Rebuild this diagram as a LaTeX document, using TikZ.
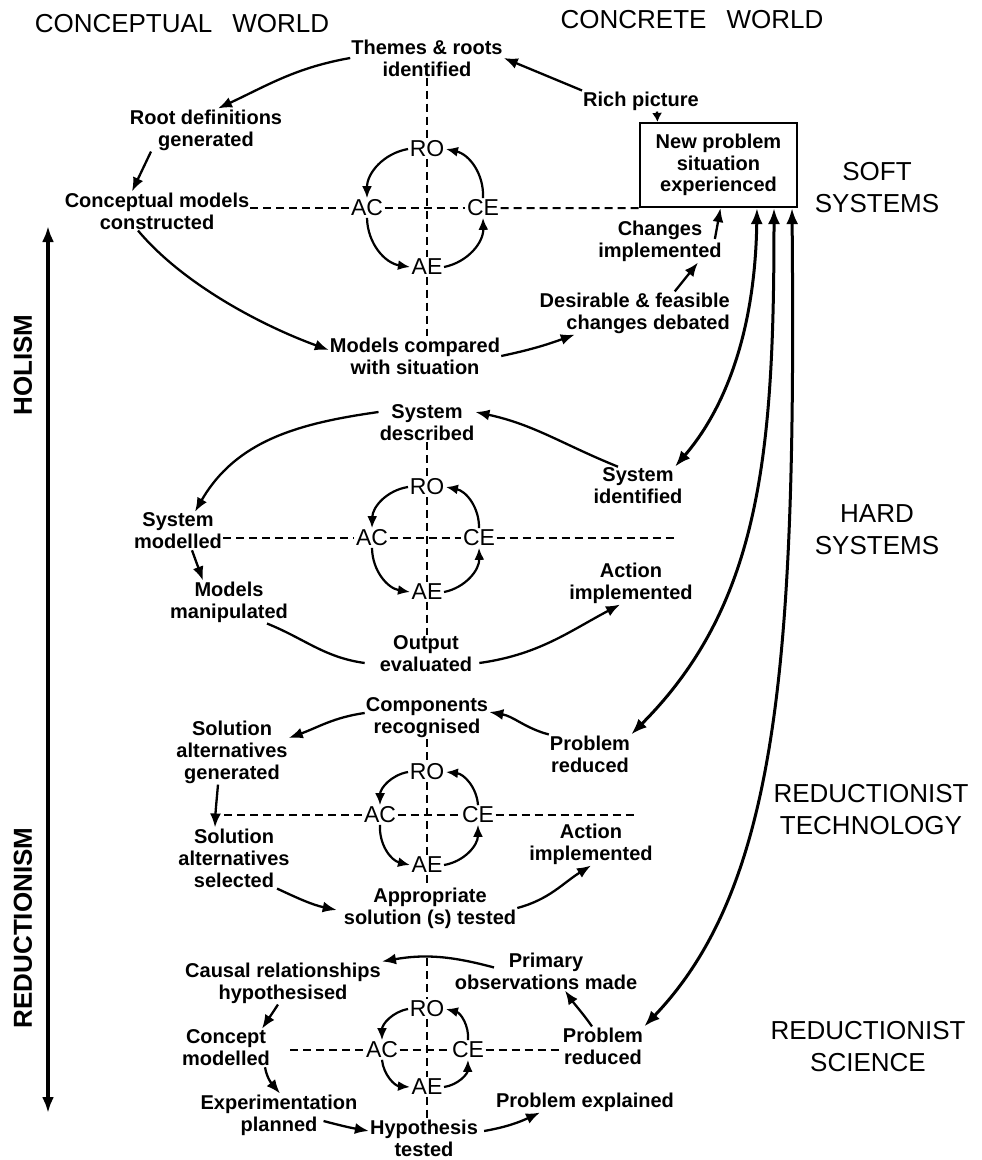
\documentclass[tikz,border=0pt]{standalone}
\usepackage{fontspec}
\setmainfont{Liberation Sans}
\usetikzlibrary{arrows.meta}
\begin{document}
\begin{tikzpicture}[x=1pt,y=1pt,
  lbl/.style={font=\fontsize{20}{22}\selectfont\bfseries, align=center, inner sep=1pt},
  hdr/.style={font=\fontsize{26}{32}\selectfont, align=center, inner sep=0pt},
  cyc/.style={font=\fontsize{23}{25}\selectfont, inner sep=1.5pt},
  arr/.style={line width=2.3pt, -{Latex[length=14pt,width=11pt]}},
  sarr/.style={line width=2.3pt, -{Latex[length=9pt,width=10pt]}},
  carr/.style={line width=2.2pt, -{Latex[length=12pt,width=10pt]}},
  plainline/.style={line width=2.3pt},
  dsh/.style={line width=2pt, dash pattern=on 8pt off 5pt},
  big/.style={line width=3pt, {Latex[length=16pt,width=12pt]}-{Latex[length=16pt,width=12pt]}},
  boxst/.style={draw, line width=2.2pt, minimum width=157pt, minimum height=84pt, inner sep=2pt,
                font=\fontsize{20}{21.5}\selectfont\bfseries, align=center}
]
\path[use as bounding box] (0,0) rectangle (982,-1160);

% ---------- headers ----------
\node[hdr] (cw) at (182,-24) {CONCEPTUAL\hspace{20pt}WORLD};
\node[hdr] (crw) at (692,-20) {CONCRETE\hspace{20pt}WORLD};
\node[hdr] (soft) at (877,-188) {SOFT\\SYSTEMS};
\node[hdr] (hard) at (877,-530) {HARD\\SYSTEMS};
\node[hdr] (rtech) at (871,-810) {REDUCTIONIST\\TECHNOLOGY};
\node[hdr] (rsci) at (868,-1047) {REDUCTIONIST\\SCIENCE};
\node[hdr, font=\fontsize{26}{32}\selectfont\bfseries, rotate=90] (hol) at (23,-365) {HOLISM};
\node[hdr, font=\fontsize{26}{32}\selectfont\bfseries, rotate=90] (red) at (23,-928) {REDUCTIONISM};
\coordinate (axt) at (48,-226);
\coordinate (axb) at (48,-1113);
\draw[big, line width=3.2pt] (axt) -- (axb);

% ---------- soft systems ----------
\node[lbl] (th) at (427,-58) {Themes \& roots\\identified};
\node[lbl] (rich) at (641,-101) {Rich picture};
\node[boxst] (box) at (718.5,-165) {New problem\\situation\\experienced};
\node[lbl] (rd) at (206,-130) {Root definitions\\generated};
\node[lbl] (cm) at (157,-211) {Conceptual models\\constructed};
\node[lbl] (mc) at (415,-356) {Models compared\\with situation};
\node[lbl, align=right, anchor=east] (dc) at (731,-313) {Desirable \& feasible\\changes debated};
\node[lbl] (ci) at (660,-241) {Changes\\implemented};
\node[cyc] (RO1) at (427,-149) {RO};
\node[cyc] (AC1) at (367,-208) {AC};
\node[cyc] (CE1) at (483,-208) {CE};
\node[cyc] (AE1) at (427,-267) {AE};

\draw[arr] (rich.north west) -- (th.east);
\draw[arr] (th.west) to[out=190,in=25] ([xshift=12pt]rd.north);
\draw[arr] ([xshift=-55pt]rd.south) -- ([xshift=-25pt]cm.north);
\draw[arr] ([xshift=-19pt]cm.south) to[out=-50,in=160,looseness=0.8] ([yshift=6pt]mc.west);
\draw[arr] (mc.east) to[out=12,in=200] ([xshift=-60pt]dc.south);
\draw[arr] ([xshift=40pt]dc.north) -- ([xshift=38pt]ci.south);
\draw[arr] ([xshift=-8pt,yshift=2pt]ci.east) -- ([xshift=2pt]box.south);
\draw[sarr] ([xshift=16pt]rich.south) -- ([xshift=-61pt]box.north);

\draw[carr] (RO1.west) to[bend right=40] (AC1.north);
\draw[carr] (AC1.south) to[bend right=40] (AE1.west);
\draw[carr] (AE1.east) to[bend right=40] (CE1.south);
\draw[carr] (CE1.north) to[bend right=40] (RO1.east);

\draw[dsh] (th.south) -- (RO1.north);
\draw[dsh] (RO1.south) -- (AE1.north);
\draw[dsh] (AE1.south) -- (AE1.south |- mc.north);
\draw[dsh] ([yshift=3pt]cm.east) -- (AC1.west);
\draw[dsh] (AC1.east) -- (CE1.west);
\draw[dsh] (CE1.east) -- (box.south west);

% ---------- hard systems ----------
\node[lbl] (sd) at (427,-423) {System\\described};
\node[lbl] (sm) at (178,-531) {System\\modelled};
\node[lbl] (mm) at (229,-602) {Models\\manipulated};
\node[lbl] (oe) at (426,-654) {Output\\evaluated};
\node[lbl] (ai2) at (631,-583) {Action\\implemented};
\node[lbl] (si) at (638,-486) {System\\identified};
\node[cyc] (RO2) at (427,-487) {RO};
\node[cyc] (AC2) at (372,-538) {AC};
\node[cyc] (CE2) at (479,-538) {CE};
\node[cyc] (AE2) at (427,-592) {AE};
\coordinate (hsr) at (677,-538);

\draw[arr] ([xshift=-20pt]si.north) to[out=158,in=-12] ([yshift=11pt]sd.east);
\draw[arr] ([yshift=11pt]sd.west) to[out=188,in=60] ([xshift=17pt]sm.north);
\draw[arr] ([xshift=14pt]sm.south) -- ([xshift=-26pt]mm.north);
\draw[plainline] ([xshift=38pt]mm.south) to[out=-22,in=172] ([xshift=-14pt,yshift=-9pt]oe.west);
\draw[arr] ([xshift=6pt,yshift=-9pt]oe.east) to[out=8,in=208] ([xshift=-11pt]ai2.south);

\draw[carr] (RO2.west) to[bend right=40] (AC2.north);
\draw[carr] (AC2.south) to[bend right=40] (AE2.west);
\draw[carr] (AE2.east) to[bend right=40] (CE2.south);
\draw[carr] (CE2.north) to[bend right=40] (RO2.east);

\draw[dsh] (sd.south) -- (RO2.north);
\draw[dsh] (RO2.south) -- (AE2.north);
\draw[dsh] (AE2.south) -- (AE2.south |- oe.north);
\draw[dsh] ([yshift=-7pt]sm.east) -- (AC2.west);
\draw[dsh] (AC2.east) -- (CE2.west);
\draw[dsh] (CE2.east) -- (hsr);

% ---------- reductionist technology ----------
\node[lbl] (cr) at (427,-718) {Components\\recognised};
\node[lbl] (sg) at (232,-752) {Solution\\alternatives\\generated};
\node[lbl] (ss) at (234,-858) {Solution\\alternatives\\selected};
\node[lbl] (ap) at (430,-908) {Appropriate\\solution (s) tested};
\node[lbl] (ai3) at (591,-844) {Action\\implemented};
\node[lbl] (pr3) at (590,-754) {Problem\\reduced};
\node[cyc] (RO3) at (427,-772) {RO};
\node[cyc] (AC3) at (380,-815) {AC};
\node[cyc] (CE3) at (478,-815) {CE};
\node[cyc] (AE3) at (427,-865) {AE};
\coordinate (rtl) at (224,-815);
\coordinate (rtr) at (637,-815);

\draw[arr] (pr3.north west) to[out=165,in=-10] ([yshift=6pt]cr.east);
\draw[arr] ([yshift=5pt]cr.west) to[out=188,in=20] ([yshift=14pt]sg.east);
\draw[arr] ([xshift=-14pt]sg.south) to[out=-95,in=88] ([xshift=-19pt]ss.north);
\draw[arr] ([xshift=43pt]ss.south) to[out=-25,in=168] ([xshift=-6pt,yshift=-2pt]ap.west);
\draw[arr] (ap.east) to[out=15,in=212] (ai3.south);

\draw[carr] (RO3.west) to[bend right=40] (AC3.north);
\draw[carr] (AC3.south) to[bend right=40] (AE3.west);
\draw[carr] (AE3.east) to[bend right=40] (CE3.south);
\draw[carr] (CE3.north) to[bend right=40] (RO3.east);

\draw[dsh] (cr.south) -- (RO3.north);
\draw[dsh] (RO3.south) -- (AE3.north);
\draw[dsh] (AE3.south) -- (AE3.south |- ap.north);
\draw[dsh] (rtl) -- (AC3.west);
\draw[dsh] (AC3.east) -- (CE3.west);
\draw[dsh] (CE3.east) -- (rtr);

% ---------- reductionist science ----------
\node[lbl] (po) at (546,-971) {Primary\\observations made};
\node[lbl] (ch) at (283,-983) {Causal relationships\\hypothesised};
\node[lbl] (cpm) at (226,-1048) {Concept\\modelled};
\node[lbl] (ep) at (279,-1115) {Experimentation\\planned};
\node[lbl] (ht) at (424,-1138) {Hypothesis\\tested};
\node[lbl] (pe) at (585,-1102) {Problem explained};
\node[lbl] (pr4) at (603,-1046) {Problem\\reduced};
\node[cyc] (RO4) at (427,-1009) {RO};
\node[cyc] (AC4) at (382,-1050) {AC};
\node[cyc] (CE4) at (468,-1050) {CE};
\node[cyc] (AE4) at (427,-1087) {AE};
\coordinate (rst) at (427,-958);
\coordinate (rsl) at (290,-1050);

\draw[arr] ([xshift=-52pt,yshift=-16pt]po.north) to[out=165,in=10] (ch.north east);
\draw[arr] ([xshift=-5pt]ch.south) -- ([xshift=36pt]cpm.north);
\draw[arr] ([xshift=39pt]cpm.south) to[out=-80,in=130] ([xshift=1pt]ep.north);
\draw[arr] ([xshift=-35pt,yshift=-6pt]ep.east) to[out=-15,in=170] ([yshift=7pt]ht.west);
\draw[arr] ([xshift=5pt,yshift=7pt]ht.east) to[out=10,in=205] ([xshift=-45pt]pe.south);
\draw[arr] ([xshift=-11pt]pr4.north) to[out=125,in=-55] ([xshift=19pt]po.south);

\draw[carr] (RO4.west) to[bend right=40] (AC4.north);
\draw[carr] (AC4.south) to[bend right=40] (AE4.west);
\draw[carr] (AE4.east) to[bend right=40] (CE4.south);
\draw[carr] (CE4.north) to[bend right=40] (RO4.east);

\draw[dsh] (rst) -- (RO4.north);
\draw[dsh] (RO4.south) -- (AE4.north);
\draw[dsh] (AE4.south) -- (AE4.south |- ht.north);
\draw[dsh] (rsl) -- (AC4.west);
\draw[dsh] (AC4.east) -- (CE4.west);
\draw[dsh] (CE4.east) -- (CE4.east -| pr4.west);

% ---------- long double arrows from the problem box ----------
\draw[big] ([xshift=38.5pt]box.south) .. controls +(-2,-133) and +(45,52) .. ([xshift=37pt]si.north);
\draw[big] ([xshift=55.5pt]box.south) .. controls +(0,-243) and +(130,130) .. (pr3.north east);
\draw[big] ([xshift=73.5pt]box.south) .. controls +(4,-443) and +(136,142) .. (pr4.north east);
\end{tikzpicture}
\end{document}
